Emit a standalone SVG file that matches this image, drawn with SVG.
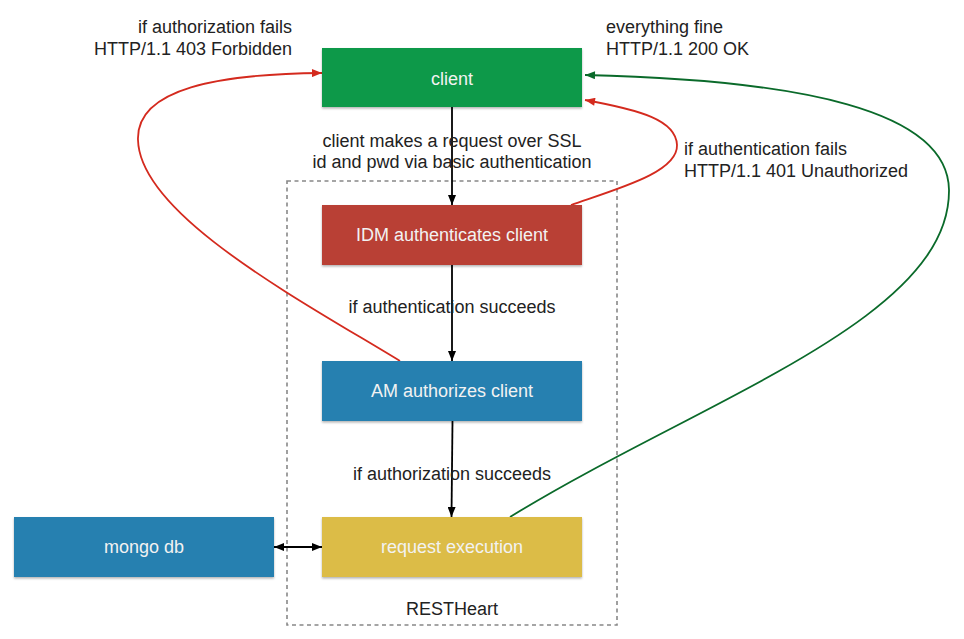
<svg xmlns="http://www.w3.org/2000/svg" width="964" height="639" viewBox="0 0 964 639">
<style>
  text { font-family: "Liberation Sans", Arial, sans-serif; font-size: 18px; fill: #222; }
  .lbl { fill: #f2f2f2; text-anchor: middle; }
  .mid { text-anchor: middle; }
  .end { text-anchor: end; }
  .box { filter: url(#sh); }
  .conn { fill: none; stroke-width: 1.8; }
</style>
<defs>
  <filter id="sh" x="-5%" y="-10%" width="110%" height="125%">
    <feDropShadow dx="0" dy="1.5" stdDeviation="1.2" flood-color="#000" flood-opacity="0.3"/>
  </filter>
  <marker id="ak" viewBox="0 0 10 8" refX="10" refY="4" markerWidth="10" markerHeight="8" markerUnits="userSpaceOnUse" orient="auto-start-reverse">
    <path d="M0,0 L10,4 L0,8 Z" fill="#000"/>
  </marker>
  <marker id="ar" viewBox="0 0 10 8" refX="10" refY="4" markerWidth="11" markerHeight="8" markerUnits="userSpaceOnUse" orient="auto">
    <path d="M0,0 L10,4 L0,8 Z" fill="#d42a1e"/>
  </marker>
  <marker id="ag" viewBox="0 0 10 8" refX="10" refY="4" markerWidth="11" markerHeight="8" markerUnits="userSpaceOnUse" orient="auto">
    <path d="M0,0 L10,4 L0,8 Z" fill="#0a6a2a"/>
  </marker>
</defs>
<rect width="964" height="639" fill="#fff"/>

<g id="restheart">
  <rect x="287" y="181" width="330" height="444" fill="none" stroke="#888" stroke-width="1.6" stroke-dasharray="4 3.5"/>
  <text class="mid" x="452" y="615">RESTHeart</text>
</g>

<g id="connectors">
  <line class="conn" x1="452" y1="107" x2="452" y2="205" stroke="#000" marker-end="url(#ak)"/>
  <line class="conn" x1="452" y1="265" x2="452" y2="361" stroke="#000" marker-end="url(#ak)"/>
  <line class="conn" x1="452.5" y1="421" x2="451.5" y2="517" stroke="#000" marker-end="url(#ak)"/>
  <line class="conn" x1="274" y1="547" x2="322" y2="547" stroke="#000" marker-start="url(#ak)" marker-end="url(#ak)"/>
  <path class="conn" d="M400,361 C300,300 140,215 138,140 C136,88 220,74 322,73" stroke="#d42a1e" marker-end="url(#ar)"/>
  <path class="conn" d="M571,205 C620,188 678,172 677,145 C676,120 640,110 585,100" stroke="#d42a1e" marker-end="url(#ar)"/>
  <path class="conn" d="M510,517 C700,400 950,320 949,190 C948,110 800,80 585,75" stroke="#0a6a2a" marker-end="url(#ag)"/>
</g>

<g id="client">
  <rect class="box" x="322" y="48" width="260" height="59" fill="#11994a"/>
  <text class="lbl" x="452" y="85">client</text>
</g>
<g id="idm">
  <rect class="box" x="322" y="205" width="260" height="60" fill="#b94035"/>
  <text class="lbl" x="452" y="241">IDM authenticates client</text>
</g>
<g id="am">
  <rect class="box" x="322" y="361" width="260" height="60" fill="#2580b0"/>
  <text class="lbl" x="452" y="397">AM authorizes client</text>
</g>
<g id="request">
  <rect class="box" x="322" y="517" width="260" height="60" fill="#dcbc46"/>
  <text class="lbl" x="452" y="553">request execution</text>
</g>
<g id="mongo">
  <rect class="box" x="14" y="517" width="260" height="60" fill="#2580b0"/>
  <text class="lbl" x="144" y="553">mongo db</text>
</g>

<g id="labels">
  <text class="mid" x="452" y="147">client makes a request over SSL</text>
  <text class="mid" x="452" y="168">id and pwd via basic authentication</text>
  <text class="mid" x="452" y="313">if authentication succeeds</text>
  <text class="mid" x="452" y="480">if authorization succeeds</text>
  <text class="end" x="292" y="33">if authorization fails</text>
  <text class="end" x="292" y="55">HTTP/1.1 403 Forbidden</text>
  <text x="606" y="33">everything fine</text>
  <text x="606" y="55">HTTP/1.1 200 OK</text>
  <text x="684" y="155">if authentication fails</text>
  <text x="684" y="177">HTTP/1.1 401 Unauthorized</text>
</g>
</svg>
